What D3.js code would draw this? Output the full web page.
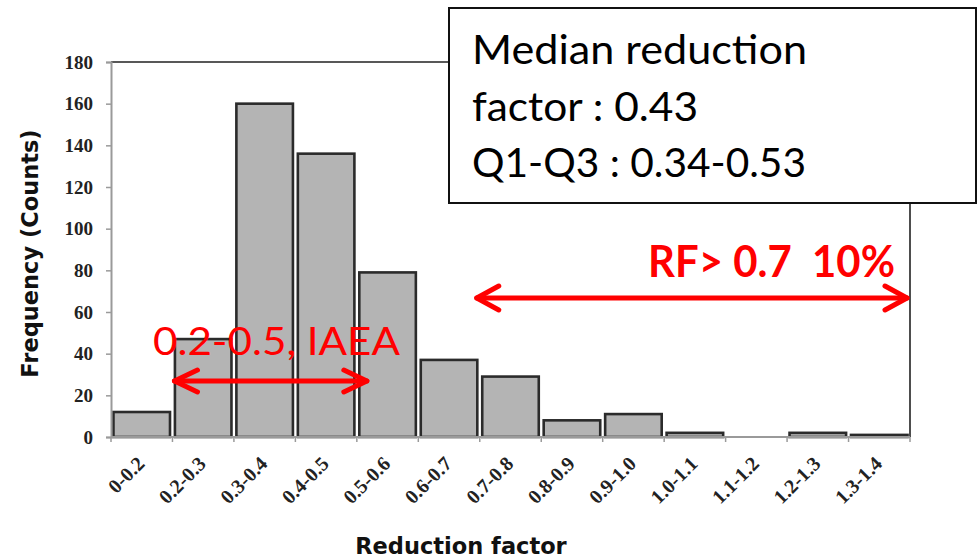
<!DOCTYPE html>
<html>
<head>
<meta charset="utf-8">
<script src="https://cdn.jsdelivr.net/npm/d3@7"></script>
<style>
  html, body { margin: 0; padding: 0; background: #fff; }
  svg { display: block; }
</style>
</head>
<body>
<svg id="chart" width="980" height="558"></svg>
<script>
// ---- data ----
const categories = ["0-0.2","0.2-0.3","0.3-0.4","0.4-0.5","0.5-0.6","0.6-0.7","0.7-0.8","0.8-0.9","0.9-1.0","1.0-1.1","1.1-1.2","1.2-1.3","1.3-1.4"];
const counts = [12, 47, 160, 136, 79, 37, 29, 8, 11, 2, 0, 2, 1];
const yTicks = [0, 20, 40, 60, 80, 100, 120, 140, 160, 180];
const yTitle = "Frequency (Counts)";
const xTitle = "Reduction factor";
const boxLines = ["Median reduction", "factor : 0.43", "Q1-Q3 : 0.34-0.53"];
const noteHigh = "RF> 0.7\u00a0\u00a010%";
const noteIaea = "0.2-0.5, IAEA";

// ---- layout ----
const svg = d3.select("#chart");
const L = 111, R = 910, T = 62, B = 437;

const x = d3.scaleBand().domain(categories).range([L, R]).paddingInner(0.08).paddingOuter(0.04);
const y = d3.scaleLinear().domain([0, 180]).range([B, T]);
const half = (x.step() - x.bandwidth()) / 2;
const edge = c => x(c) - half;               // left boundary of a bin
const boundaries = categories.map(edge).concat([R]);

// frame top/right (black)
svg.append("path")
  .attr("d", `M${L},${T}H${R}V${B}`)
  .attr("fill", "none").attr("stroke", "#222").attr("stroke-width", 1.6);

// bars
svg.append("g").selectAll("rect").data(counts).join("rect")
  .attr("x", (d, i) => x(categories[i]))
  .attr("y", d => y(d))
  .attr("width", x.bandwidth())
  .attr("height", d => B - y(d))
  .attr("fill", "#b4b4b4")
  .attr("stroke", "#2b2b2b")
  .attr("stroke-width", 2.6);

// y axis
const yAxis = svg.append("g").attr("transform", `translate(${L},0)`)
  .call(d3.axisLeft(y).tickValues(yTicks).tickSize(5).tickPadding(13));
yAxis.select(".domain").attr("stroke", "#9a9a9a").attr("stroke-width", 2);
yAxis.selectAll(".tick line").attr("stroke", "#9a9a9a").attr("stroke-width", 1.5);
yAxis.selectAll(".tick text")
  .attr("font-family", "'Liberation Serif', 'Times New Roman', serif")
  .attr("font-weight", "bold").attr("font-size", 19).attr("fill", "#222");

// x axis line + ticks at bin boundaries
svg.append("line").attr("x1", L).attr("x2", R).attr("y1", B).attr("y2", B)
  .attr("stroke", "#9a9a9a").attr("stroke-width", 2);
svg.append("g").selectAll("line").data(boundaries).join("line")
  .attr("x1", d => d).attr("x2", d => d).attr("y1", B).attr("y2", B + 5)
  .attr("stroke", "#9a9a9a").attr("stroke-width", 1.5);

// x tick labels, rotated
svg.append("g").selectAll("text").data(categories).join("text")
  .attr("transform", c => `translate(${x(c) + x.bandwidth() / 2 + 4},${B + 28}) rotate(-45)`)
  .attr("text-anchor", "end")
  .attr("font-family", "'Liberation Serif', 'Times New Roman', serif")
  .attr("font-weight", "bold").attr("font-size", 20).attr("fill", "#222")
  .text(c => c);

// axis titles
svg.append("text")
  .attr("transform", `translate(38,${(T + B) / 2 + 4}) rotate(-90)`)
  .attr("text-anchor", "middle")
  .attr("font-family", "'DejaVu Sans', Verdana, sans-serif")
  .attr("font-weight", "bold").attr("font-size", 22.5).attr("fill", "#111")
  .text(yTitle);
svg.append("text")
  .attr("x", 461).attr("y", 554)
  .attr("text-anchor", "middle")
  .attr("font-family", "'DejaVu Sans', Verdana, sans-serif")
  .attr("font-weight", "bold").attr("font-size", 22.5).attr("fill", "#111")
  .text(xTitle);

// annotation box
svg.append("rect").attr("x", 449).attr("y", 8).attr("width", 527).attr("height", 195)
  .attr("fill", "#fff").attr("stroke", "#111").attr("stroke-width", 2);
const boxW = [335, 226, 334];
svg.append("g").selectAll("text").data(boxLines).join("text")
  .attr("x", 472).attr("y", (d, i) => 64 + i * 56.5)
  .attr("font-family", "Lato, 'Open Sans', sans-serif")
  .attr("font-size", 41).attr("fill", "#000")
  .attr("textLength", (d, i) => boxW[i]).attr("lengthAdjust", "spacingAndGlyphs")
  .text(d => d);

// red arrows
const red = "#ff0000";
function dblArrow(x1, x2, yy, hx, hy) {
  const g = svg.append("g").attr("stroke", red).attr("stroke-width", 5)
    .attr("stroke-linecap", "round").attr("stroke-linejoin", "round").attr("fill", "none");
  g.append("line").attr("x1", x1).attr("x2", x2).attr("y1", yy).attr("y2", yy);
  g.append("path").attr("d", `M${x1 + hx},${yy - hy}L${x1},${yy}L${x1 + hx},${yy + hy}`);
  g.append("path").attr("d", `M${x2 - hx},${yy - hy}L${x2},${yy}L${x2 - hx},${yy + hy}`);
}
// RF > 0.7 arrow: from 0.7 boundary to end of axis
dblArrow(edge("0.7-0.8") - 3, R - 3, 298, 22, 12);
// IAEA arrow: from 0.2 boundary to 0.5 boundary
dblArrow(edge("0.2-0.3") + 2, edge("0.5-0.6") + 10, 381, 23, 11);

svg.append("text")
  .attr("x", 895).attr("y", 277).attr("text-anchor", "end")
  .attr("font-family", "Lato, 'Open Sans', sans-serif")
  .attr("font-weight", "bold").attr("font-size", 44).attr("fill", red)
  .attr("textLength", 247).attr("lengthAdjust", "spacingAndGlyphs")
  .text(noteHigh);
svg.append("text")
  .attr("x", 153).attr("y", 355)
  .attr("font-family", "Lato, 'Open Sans', sans-serif")
  .attr("font-size", 38).attr("fill", red)
  .attr("textLength", 247).attr("lengthAdjust", "spacingAndGlyphs")
  .text(noteIaea);
</script>
</body>
</html>
